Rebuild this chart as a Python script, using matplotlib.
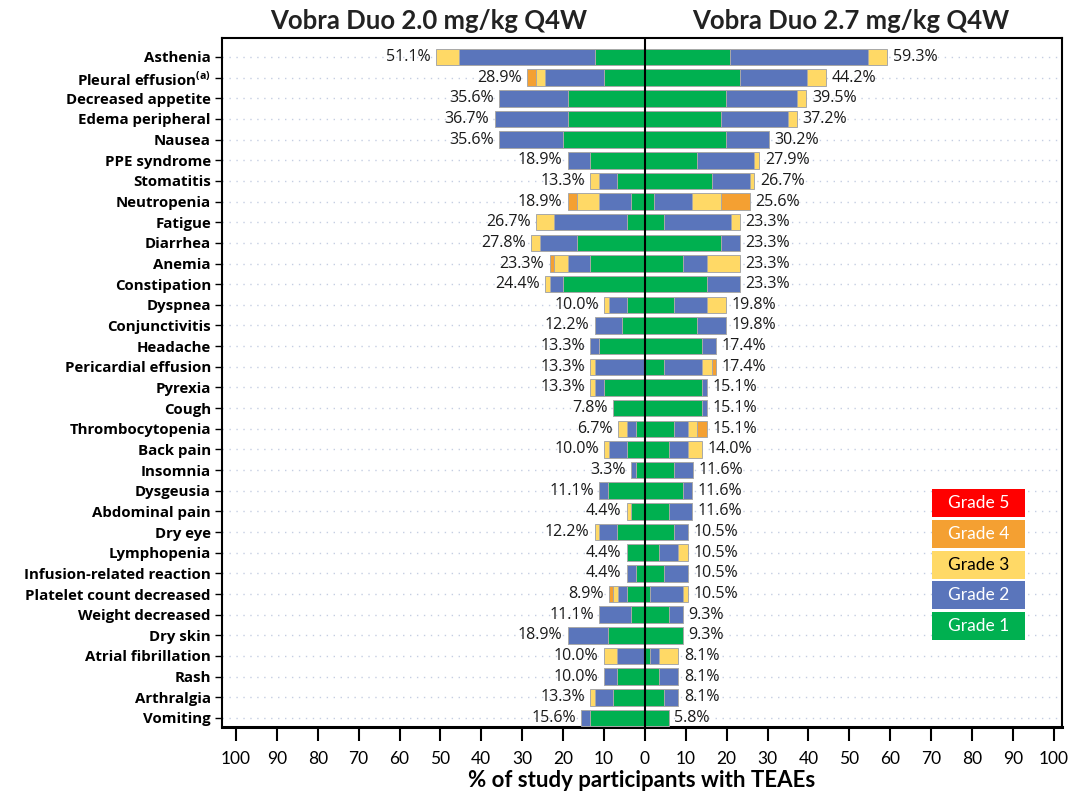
import numpy as np
import matplotlib.pyplot as plt
from matplotlib.patches import Rectangle

# Datos
categories = ["Asthenia", "Pleural effusion$^{\\bf{(a)}}$", "Decreased appetite", "Edema peripheral",
              "Nausea", "PPE syndrome", "Stomatitis", "Neutropenia", "Fatigue", "Diarrhea",
              "Anemia", "Constipation", "Dyspnea", "Conjunctivitis", "Headache",
              "Pericardial effusion", "Pyrexia", "Cough", "Thrombocytopenia", "Back pain",
              "Insomnia", "Dysgeusia", "Abdominal pain", "Dry eye", "Lymphopenia",
              "Infusion-related reaction", "Platelet count decreased", "Weight decreased",
              "Dry skin", "Atrial fibrillation", "Rash", "Arthralgia", "Vomiting"]

# 2.0 mg/kg (lado izquierdo)
left_g1 = [12.2, 10.0, 18.9, 18.9, 20.0, 13.3, 6.7, 3.3, 4.4, 16.7, 13.3, 20.0, 4.4, 5.6, 11.1,
           0, 10.0, 7.8, 2.2, 4.4, 2.2, 8.9, 3.3, 6.7, 4.4, 2.2, 4.4, 3.3, 8.9, 0, 6.7, 7.8, 13.3]
left_g2 = [33.3, 14.4, 16.7, 17.8, 15.6, 5.6, 4.4, 7.8, 17.8, 8.9, 5.6, 3.3, 4.4, 6.7, 2.2,
           12.2, 2.2, 0, 2.2, 4.4, 1.1, 2.2, 0, 4.4, 0, 2.2, 2.2, 7.8, 10.0, 6.7, 3.3, 4.4, 2.2]
left_g3 = [5.6, 2.2, 0, 0, 0, 0, 2.2, 5.6, 4.4, 2.2, 3.3, 1.1, 1.1, 0, 0,
           1.1, 1.1, 0, 2.2, 1.1, 0, 0, 1.1, 1.1, 0, 0, 1.1, 0, 0, 3.3, 0, 1.1, 0]
left_g4 = [0, 2.2, 0, 0, 0, 0, 0, 2.2, 0, 0, 1.1, 0, 0, 0, 0,
           0, 0, 0, 0, 0, 0, 0, 0, 0, 0, 0, 1.1, 0, 0, 0, 0, 0, 0]
left_g5 = [0] * 33
left_total = [51.1, 28.9, 35.6, 36.7, 35.6, 18.9, 13.3, 18.9, 26.7, 27.8, 23.3, 24.4, 10.0, 12.2,
              13.3, 13.3, 13.3, 7.8, 6.7, 10.0, 3.3, 11.1, 4.4, 12.2, 4.4, 4.4, 8.9, 11.1, 18.9,
              10.0, 10.0, 13.3, 15.6]

# 2.7 mg/kg (lado derecho)
right_g1 = [20.9, 23.3, 19.8, 18.6, 19.8, 12.8, 16.3, 2.3, 4.7, 18.6, 9.3, 15.1, 7.0, 12.8, 14.0,
            4.7, 14.0, 14.0, 7.0, 5.8, 7.0, 9.3, 5.8, 7.0, 3.5, 4.7, 1.2, 5.8, 9.3, 1.2, 3.5, 4.7, 5.8]
right_g2 = [33.7, 16.3, 17.4, 16.3, 10.5, 14.0, 9.3, 9.3, 16.3, 4.7, 5.8, 8.1, 8.1, 7.0, 3.5,
            9.3, 1.2, 1.2, 3.5, 4.7, 4.7, 2.3, 5.8, 3.5, 4.7, 5.8, 8.1, 3.5, 0, 2.3, 4.7, 3.5, 0]
right_g3 = [4.7, 4.7, 2.3, 2.3, 0, 1.2, 1.2, 7.0, 2.3, 0, 8.1, 0, 4.7, 0, 0,
            2.3, 0, 0, 2.3, 3.5, 0, 0, 0, 0, 2.3, 0, 1.2, 0, 0, 4.7, 0, 0, 0]
right_g4 = [0, 0, 0, 0, 0, 0, 0, 7.0, 0, 0, 0, 0, 0, 0, 0,
            1.2, 0, 0, 2.3, 0, 0, 0, 0, 0, 0, 0, 0, 0, 0, 0, 0, 0, 0]
right_g5 = [0] * 33
right_total = [59.3, 44.2, 39.5, 37.2, 30.2, 27.9, 26.7, 25.6, 23.3, 23.3, 23.3, 23.3, 19.8, 19.8,
               17.4, 17.4, 15.1, 15.1, 15.1, 14.0, 11.6, 11.6, 11.6, 10.5, 10.5, 10.5, 10.5, 9.3,
               9.3, 8.1, 8.1, 8.1, 5.8]

grade_labels = ["Grade 1", "Grade 2", "Grade 3", "Grade 4", "Grade 5"]
colors = ["#00B050", "#5A75BB", "#FFD966", "#F4A032", "#FF0000"]
x_ticks = list(range(-100, 101, 10))

plt.rcParams['font.family'] = ['Open Sans', 'DejaVu Sans']
plt.rcParams['mathtext.fontset'] = 'custom'
plt.rcParams['mathtext.bf'] = 'Open Sans:bold'

fig = plt.figure(figsize=(10.71, 7.93), dpi=100)
ax = fig.add_axes([0.2073, 0.0832, 0.7843, 0.8689])

y = np.arange(len(categories))
sides = [(-1, [left_g1, left_g2, left_g3, left_g4, left_g5], left_total),
         (1, [right_g1, right_g2, right_g3, right_g4, right_g5], right_total)]

for sign, grades, totals in sides:
    cum = np.zeros(len(categories))
    for vals, col in zip(grades, colors):
        vals = np.array(vals, dtype=float)
        m = vals > 0
        if m.any():
            ax.barh(y[m], sign * vals[m], left=sign * cum[m], height=0.8, color=col,
                    edgecolor='#A8A8A8', linewidth=0.7, zorder=3)
        cum += vals
    for yi, c, t in zip(y, cum, totals):
        ax.annotate(f"{t:.1f}%", (sign * c, yi), xytext=(sign * 4, 0), textcoords='offset points',
                    ha='left' if sign > 0 else 'right', va='center', fontsize=11.5, color='#1a1a1a')

ax.axvline(0, color='black', linewidth=1.5, zorder=5)

ax.set_xlim(-103.4, 102.0)
ax.set_ylim(32.44, -0.92)
ax.set_yticks(y)
ax.set_yticklabels(categories, fontsize=10.8, fontweight='bold')
ax.yaxis.grid(True, linestyle=(0, (1, 4)), color='#C5CEE2', linewidth=1)
ax.set_axisbelow(True)
ax.tick_params(axis='y', length=5, width=1, pad=3)

ax.set_xticks(x_ticks)
ax.set_xticklabels([str(abs(v)) for v in x_ticks], fontsize=12.5,
                   family=['Liberation Sans Narrow', 'Lato', 'DejaVu Sans'])
ax.tick_params(axis='x', length=10, width=1.5, pad=7, direction='out')
ax.set_xlabel('% of study participants with TEAEs', fontsize=16, fontweight='bold',
              family=['Lato', 'DejaVu Sans'], va='center')
ax.xaxis.set_label_coords(0.5, -0.078)

for s in ['top', 'left', 'right']:
    ax.spines[s].set_linewidth(1.5)
ax.spines['bottom'].set_linewidth(2.2)

# Titulos de cada dosis
fig.text(429 / 1071, 1 - 21 / 793, 'Vobra Duo 2.0 mg/kg Q4W', ha='center', va='center',
         fontsize=18.5, fontweight='bold', family=['Lato', 'DejaVu Sans'], color='#222222')
fig.text(851 / 1071, 1 - 21 / 793, 'Vobra Duo 2.7 mg/kg Q4W', ha='center', va='center',
         fontsize=18.5, fontweight='bold', family=['Lato', 'DejaVu Sans'], color='#222222')

# Leyenda con cajas de color
box_tops = [489, 520, 551, 581, 612]
for lab, col, top in zip(grade_labels[::-1], colors[::-1], box_tops):
    fig.patches.append(Rectangle((932 / 1071, 1 - (top + 28) / 793), 93 / 1071, 28 / 793,
                                 transform=fig.transFigure, facecolor=col, edgecolor='none'))
    fig.text(978.5 / 1071, 1 - (top + 14) / 793, lab, ha='center', va='center', fontsize=12.5,
             family=['Lato', 'DejaVu Sans'], color='black' if lab == 'Grade 3' else 'white')

plt.savefig('out.png', dpi=100)
plt.close()
